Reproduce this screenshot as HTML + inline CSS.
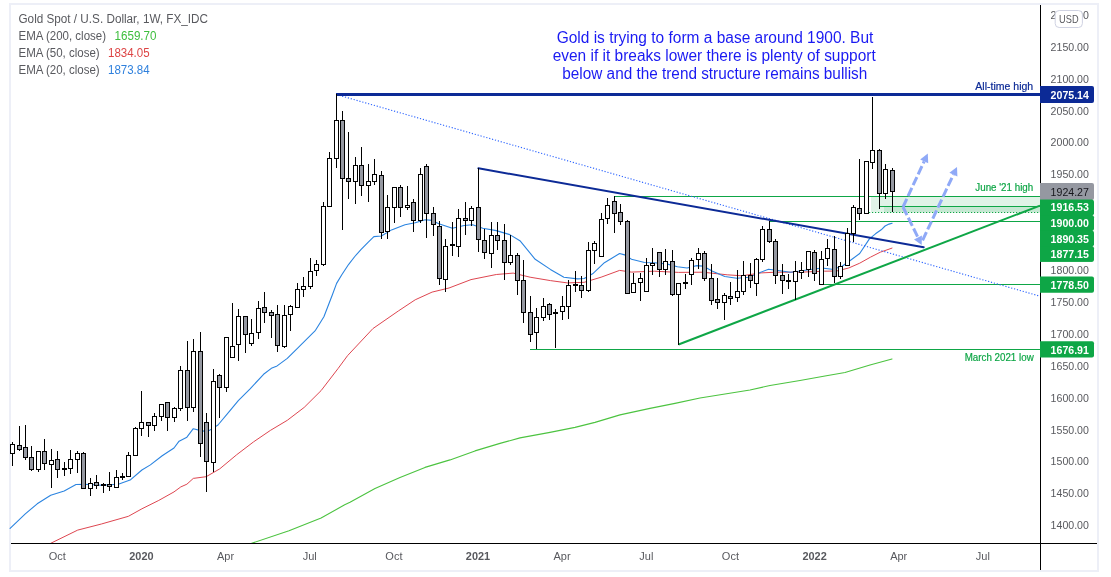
<!DOCTYPE html><html><head><meta charset="utf-8"><title>Gold Spot chart</title>
<style>html,body{margin:0;padding:0;background:#fff;}body{width:1111px;height:577px;overflow:hidden;position:relative;font-family:"Liberation Sans",sans-serif;}svg{position:absolute;left:0;top:0;display:block;will-change:transform;}text{font-family:"Liberation Sans",sans-serif;}</style></head><body>
<svg width="1111" height="577" viewBox="0 0 1111 577">
<rect x="10" y="4" width="1088" height="567" fill="#fff" stroke="#edeff7" stroke-width="2"/>
<rect x="871" y="196.5" width="169" height="16" fill="#0ea646" fill-opacity="0.13"/>
<rect x="884" y="206.5" width="156" height="6" fill="#0ea646" fill-opacity="0.13"/>
<line x1="614.5" y1="196.5" x2="1040" y2="196.5" stroke="#0ea646" stroke-width="1" />
<line x1="879" y1="206.5" x2="1040" y2="206.5" stroke="#0ea646" stroke-width="1" />
<line x1="869" y1="212.5" x2="1040" y2="212.5" stroke="#0ea646" stroke-width="1" stroke-dasharray="1.2 1.8"/>
<line x1="769.5" y1="221.5" x2="1040" y2="221.5" stroke="#0ea646" stroke-width="1" />
<line x1="819" y1="284.5" x2="1040" y2="284.5" stroke="#0ea646" stroke-width="1" />
<line x1="530" y1="349.5" x2="1040" y2="349.5" stroke="#0ea646" stroke-width="1" />
<polyline points="251.6,543.3 289.0,530.8 321.1,518.0 344.7,504.8 350.0,502.3 375.0,488.4 400.0,477.4 425.0,467.4 450.0,459.9 475.0,450.9 500.0,443.4 520.0,437.9 550.0,432.4 575.0,427.4 595.0,422.4 620.0,414.9 650.0,408.4 675.0,403.4 700.0,398.0 725.0,394.0 750.0,390.0 770.0,385.5 800.0,380.5 825.0,376.0 845.0,372.5 870.0,365.0 892.0,359.0" fill="none" stroke="#4cc340" stroke-width="1.1" stroke-linejoin="round" stroke-linecap="round"/>
<polyline points="50.7,543.3 77.7,530.1 101.4,524.0 128.4,516.3 141.9,508.8 158.8,500.4 174.0,491.9 180.8,486.9 186.9,484.2 193.3,478.4 206.2,476.7 219.7,468.9 236.6,454.8 253.5,441.9 270.4,430.4 287.3,420.3 304.2,407.4 321.1,390.6 338.0,368.6 347.6,355.6 372.9,328.6 398.3,311.0 415.2,299.8 432.1,292.1 449.0,288.0 471.0,279.6 496.3,274.5 513.2,273.1 530.1,277.2 550.4,280.6 567.3,282.9 584.2,282.3 601.1,277.2 619.6,270.4 631.5,272.1 654.3,271.2 678.6,272.4 702.9,272.2 727.2,274.8 741.8,275.8 761.2,272.9 775.8,272.2 800.1,272.2 824.4,271.2 836.6,271.0 848.7,268.0 859.7,263.2 870.6,257.1 880.3,252.2 892.0,248.1" fill="none" stroke="#de4650" stroke-width="1.0" stroke-linejoin="round" stroke-linecap="round"/>
<polyline points="10.1,528.4 25.3,513.9 37.2,503.8 50.7,495.3 64.2,490.9 76.0,484.5 84.5,484.2 101.4,485.2 118.3,484.2 130.1,480.1 141.9,470.0 150.4,464.9 162.2,455.8 174.0,448.0 179.1,441.2 186.9,437.2 193.3,428.7 202.8,431.1 209.5,430.4 218.0,425.0 229.8,410.8 238.3,400.7 250.1,388.9 263.6,374.3 272.0,367.9 277.1,365.9 287.3,358.4 296.9,348.8 315.5,330.3 323.9,316.7 332.3,295.0 336.6,283.4 341.8,274.7 348.7,264.3 354.8,256.5 360.9,249.6 367.8,242.7 373.9,236.6 381.4,236.0 391.5,229.9 405.0,224.8 415.2,222.8 425.3,219.7 432.1,220.4 438.8,223.8 452.4,228.2 464.2,225.5 472.6,224.8 482.8,228.2 496.3,230.6 509.8,234.6 519.9,240.7 535.2,259.3 550.4,269.4 563.9,277.2 577.4,278.9 584.2,278.5 592.6,273.8 604.4,262.7 619.6,253.5 624.7,254.9 631.5,259.3 644.6,262.5 654.3,262.7 666.5,263.9 677.4,266.8 687.1,268.0 696.8,265.6 702.9,266.1 712.6,271.2 724.8,276.5 736.9,278.2 749.1,277.3 758.8,272.9 768.5,269.3 778.2,270.5 790.4,272.2 800.1,271.0 812.3,269.3 822.0,268.0 831.7,269.3 841.4,266.8 849.9,260.8 859.7,253.5 869.4,238.9 875.5,233.8 881.2,229.8 885.1,226.0 889.0,224.1 892.1,223.2" fill="none" stroke="#2b84e0" stroke-width="1.1" stroke-linejoin="round" stroke-linecap="round"/>
<line x1="336.3" y1="94.5" x2="1040" y2="296.2" stroke="#2962ff" stroke-width="1.1" stroke-dasharray="1.2 1.8"/>
<line x1="336" y1="94.5" x2="1040" y2="94.5" stroke="#0c2a96" stroke-width="3"/>
<line x1="478.4" y1="168.3" x2="923.7" y2="247.2" stroke="#0c2a96" stroke-width="2" stroke-linecap="round"/>
<line x1="678.5" y1="344.5" x2="1040" y2="205.6" stroke="#0ea646" stroke-width="2" stroke-linecap="butt"/>
<g shape-rendering="crispEdges">
<rect x="12" y="442" width="1" height="24" fill="#000"/>
<rect x="10" y="444" width="5" height="10" fill="#000"/>
<rect x="11" y="445" width="3" height="8" fill="#fff"/>
<rect x="19" y="426" width="1" height="25" fill="#000"/>
<rect x="17" y="445" width="5" height="5" fill="#000"/>
<rect x="18" y="446" width="3" height="3" fill="#9598a1"/>
<rect x="25" y="425" width="1" height="35" fill="#000"/>
<rect x="23" y="447" width="5" height="11" fill="#000"/>
<rect x="24" y="448" width="3" height="9" fill="#9598a1"/>
<rect x="31" y="446" width="1" height="25" fill="#000"/>
<rect x="29" y="457" width="5" height="13" fill="#000"/>
<rect x="30" y="458" width="3" height="11" fill="#9598a1"/>
<rect x="38" y="451" width="1" height="21" fill="#000"/>
<rect x="36" y="451" width="5" height="19" fill="#000"/>
<rect x="37" y="452" width="3" height="17" fill="#fff"/>
<rect x="44" y="439" width="1" height="31" fill="#000"/>
<rect x="42" y="451" width="5" height="13" fill="#000"/>
<rect x="43" y="452" width="3" height="11" fill="#9598a1"/>
<rect x="51" y="449" width="1" height="39" fill="#000"/>
<rect x="49" y="460" width="5" height="5" fill="#000"/>
<rect x="50" y="461" width="3" height="3" fill="#fff"/>
<rect x="57" y="451" width="1" height="27" fill="#000"/>
<rect x="55" y="459" width="5" height="11" fill="#000"/>
<rect x="56" y="460" width="3" height="9" fill="#9598a1"/>
<rect x="64" y="462" width="1" height="14" fill="#000"/>
<rect x="62" y="468" width="5" height="2" fill="#000"/>
<rect x="70" y="450" width="1" height="24" fill="#000"/>
<rect x="68" y="459" width="5" height="10" fill="#000"/>
<rect x="69" y="460" width="3" height="8" fill="#fff"/>
<rect x="77" y="451" width="1" height="22" fill="#000"/>
<rect x="75" y="453" width="5" height="7" fill="#000"/>
<rect x="76" y="454" width="3" height="5" fill="#fff"/>
<rect x="83" y="452" width="1" height="37" fill="#000"/>
<rect x="81" y="453" width="5" height="36" fill="#000"/>
<rect x="82" y="454" width="3" height="34" fill="#9598a1"/>
<rect x="90" y="478" width="1" height="18" fill="#000"/>
<rect x="88" y="483" width="5" height="6" fill="#000"/>
<rect x="89" y="484" width="3" height="4" fill="#fff"/>
<rect x="96" y="475" width="1" height="14" fill="#000"/>
<rect x="94" y="482" width="5" height="4" fill="#000"/>
<rect x="95" y="483" width="3" height="2" fill="#9598a1"/>
<rect x="103" y="483" width="1" height="10" fill="#000"/>
<rect x="101" y="484" width="5" height="2" fill="#000"/>
<rect x="109" y="472" width="1" height="19" fill="#000"/>
<rect x="107" y="484" width="5" height="3" fill="#000"/>
<rect x="108" y="485" width="3" height="1" fill="#9598a1"/>
<rect x="116" y="470" width="1" height="18" fill="#000"/>
<rect x="114" y="477" width="5" height="11" fill="#000"/>
<rect x="115" y="478" width="3" height="9" fill="#fff"/>
<rect x="122" y="473" width="1" height="7" fill="#000"/>
<rect x="120" y="476" width="5" height="2" fill="#000"/>
<rect x="128" y="452" width="1" height="25" fill="#000"/>
<rect x="126" y="455" width="5" height="22" fill="#000"/>
<rect x="127" y="456" width="3" height="20" fill="#fff"/>
<rect x="135" y="427" width="1" height="28" fill="#000"/>
<rect x="133" y="428" width="5" height="28" fill="#000"/>
<rect x="134" y="429" width="3" height="26" fill="#fff"/>
<rect x="141" y="391" width="1" height="45" fill="#000"/>
<rect x="139" y="422" width="5" height="7" fill="#000"/>
<rect x="140" y="423" width="3" height="5" fill="#fff"/>
<rect x="148" y="422" width="1" height="15" fill="#000"/>
<rect x="146" y="422" width="5" height="4" fill="#000"/>
<rect x="147" y="423" width="3" height="2" fill="#9598a1"/>
<rect x="154" y="413" width="1" height="18" fill="#000"/>
<rect x="152" y="416" width="5" height="10" fill="#000"/>
<rect x="153" y="417" width="3" height="8" fill="#fff"/>
<rect x="161" y="404" width="1" height="17" fill="#000"/>
<rect x="159" y="404" width="5" height="13" fill="#000"/>
<rect x="160" y="405" width="3" height="11" fill="#fff"/>
<rect x="167" y="402" width="1" height="29" fill="#000"/>
<rect x="165" y="402" width="5" height="16" fill="#000"/>
<rect x="166" y="403" width="3" height="14" fill="#9598a1"/>
<rect x="174" y="407" width="1" height="15" fill="#000"/>
<rect x="172" y="408" width="5" height="10" fill="#000"/>
<rect x="173" y="409" width="3" height="8" fill="#fff"/>
<rect x="180" y="366" width="1" height="45" fill="#000"/>
<rect x="178" y="370" width="5" height="39" fill="#000"/>
<rect x="179" y="371" width="3" height="37" fill="#fff"/>
<rect x="187" y="341" width="1" height="80" fill="#000"/>
<rect x="185" y="370" width="5" height="38" fill="#000"/>
<rect x="186" y="371" width="3" height="36" fill="#9598a1"/>
<rect x="193" y="339" width="1" height="73" fill="#000"/>
<rect x="191" y="351" width="5" height="57" fill="#000"/>
<rect x="192" y="352" width="3" height="55" fill="#fff"/>
<rect x="200" y="332" width="1" height="125" fill="#000"/>
<rect x="198" y="351" width="5" height="93" fill="#000"/>
<rect x="199" y="352" width="3" height="91" fill="#9598a1"/>
<rect x="206" y="413" width="1" height="79" fill="#000"/>
<rect x="204" y="422" width="5" height="40" fill="#000"/>
<rect x="205" y="423" width="3" height="38" fill="#9598a1"/>
<rect x="213" y="369" width="1" height="103" fill="#000"/>
<rect x="211" y="381" width="5" height="82" fill="#000"/>
<rect x="212" y="382" width="3" height="80" fill="#fff"/>
<rect x="219" y="374" width="1" height="44" fill="#000"/>
<rect x="217" y="375" width="5" height="13" fill="#000"/>
<rect x="218" y="376" width="3" height="11" fill="#9598a1"/>
<rect x="226" y="337" width="1" height="55" fill="#000"/>
<rect x="224" y="337" width="5" height="51" fill="#000"/>
<rect x="225" y="338" width="3" height="49" fill="#fff"/>
<rect x="232" y="303" width="1" height="54" fill="#000"/>
<rect x="230" y="346" width="5" height="12" fill="#000"/>
<rect x="231" y="347" width="3" height="10" fill="#fff"/>
<rect x="238" y="309" width="1" height="52" fill="#000"/>
<rect x="236" y="316" width="5" height="29" fill="#000"/>
<rect x="237" y="317" width="3" height="27" fill="#fff"/>
<rect x="245" y="316" width="1" height="37" fill="#000"/>
<rect x="243" y="316" width="5" height="19" fill="#000"/>
<rect x="244" y="317" width="3" height="17" fill="#9598a1"/>
<rect x="251" y="319" width="1" height="27" fill="#000"/>
<rect x="249" y="333" width="5" height="11" fill="#000"/>
<rect x="250" y="334" width="3" height="9" fill="#fff"/>
<rect x="258" y="301" width="1" height="38" fill="#000"/>
<rect x="256" y="308" width="5" height="25" fill="#000"/>
<rect x="257" y="309" width="3" height="23" fill="#fff"/>
<rect x="264" y="292" width="1" height="31" fill="#000"/>
<rect x="262" y="307" width="5" height="6" fill="#000"/>
<rect x="263" y="308" width="3" height="4" fill="#9598a1"/>
<rect x="271" y="310" width="1" height="28" fill="#000"/>
<rect x="269" y="312" width="5" height="4" fill="#000"/>
<rect x="270" y="313" width="3" height="2" fill="#9598a1"/>
<rect x="277" y="305" width="1" height="47" fill="#000"/>
<rect x="275" y="314" width="5" height="32" fill="#000"/>
<rect x="276" y="315" width="3" height="30" fill="#9598a1"/>
<rect x="284" y="305" width="1" height="43" fill="#000"/>
<rect x="282" y="315" width="5" height="32" fill="#000"/>
<rect x="283" y="316" width="3" height="30" fill="#fff"/>
<rect x="290" y="305" width="1" height="26" fill="#000"/>
<rect x="288" y="306" width="5" height="9" fill="#000"/>
<rect x="289" y="307" width="3" height="7" fill="#fff"/>
<rect x="297" y="283" width="1" height="25" fill="#000"/>
<rect x="295" y="289" width="5" height="19" fill="#000"/>
<rect x="296" y="290" width="3" height="17" fill="#fff"/>
<rect x="303" y="277" width="1" height="20" fill="#000"/>
<rect x="301" y="286" width="5" height="4" fill="#000"/>
<rect x="302" y="287" width="3" height="2" fill="#fff"/>
<rect x="310" y="258" width="1" height="31" fill="#000"/>
<rect x="308" y="271" width="5" height="16" fill="#000"/>
<rect x="309" y="272" width="3" height="14" fill="#fff"/>
<rect x="316" y="260" width="1" height="16" fill="#000"/>
<rect x="314" y="264" width="5" height="7" fill="#000"/>
<rect x="315" y="265" width="3" height="5" fill="#fff"/>
<rect x="323" y="202" width="1" height="64" fill="#000"/>
<rect x="321" y="206" width="5" height="59" fill="#000"/>
<rect x="322" y="207" width="3" height="57" fill="#fff"/>
<rect x="329" y="152" width="1" height="55" fill="#000"/>
<rect x="327" y="158" width="5" height="49" fill="#000"/>
<rect x="328" y="159" width="3" height="47" fill="#fff"/>
<rect x="336" y="94" width="1" height="74" fill="#000"/>
<rect x="334" y="120" width="5" height="39" fill="#000"/>
<rect x="335" y="121" width="3" height="37" fill="#fff"/>
<rect x="342" y="111" width="1" height="119" fill="#000"/>
<rect x="340" y="120" width="5" height="59" fill="#000"/>
<rect x="341" y="121" width="3" height="57" fill="#9598a1"/>
<rect x="348" y="132" width="1" height="67" fill="#000"/>
<rect x="346" y="178" width="5" height="4" fill="#000"/>
<rect x="347" y="179" width="3" height="2" fill="#9598a1"/>
<rect x="355" y="157" width="1" height="47" fill="#000"/>
<rect x="353" y="165" width="5" height="17" fill="#000"/>
<rect x="354" y="166" width="3" height="15" fill="#fff"/>
<rect x="361" y="147" width="1" height="49" fill="#000"/>
<rect x="359" y="165" width="5" height="21" fill="#000"/>
<rect x="360" y="166" width="3" height="19" fill="#9598a1"/>
<rect x="368" y="164" width="1" height="38" fill="#000"/>
<rect x="366" y="181" width="5" height="5" fill="#000"/>
<rect x="367" y="182" width="3" height="3" fill="#fff"/>
<rect x="374" y="159" width="1" height="26" fill="#000"/>
<rect x="372" y="174" width="5" height="8" fill="#000"/>
<rect x="373" y="175" width="3" height="6" fill="#fff"/>
<rect x="381" y="171" width="1" height="68" fill="#000"/>
<rect x="379" y="175" width="5" height="58" fill="#000"/>
<rect x="380" y="176" width="3" height="56" fill="#9598a1"/>
<rect x="387" y="195" width="1" height="44" fill="#000"/>
<rect x="385" y="207" width="5" height="25" fill="#000"/>
<rect x="386" y="208" width="3" height="23" fill="#fff"/>
<rect x="394" y="187" width="1" height="36" fill="#000"/>
<rect x="392" y="187" width="5" height="21" fill="#000"/>
<rect x="393" y="188" width="3" height="19" fill="#fff"/>
<rect x="400" y="185" width="1" height="32" fill="#000"/>
<rect x="398" y="187" width="5" height="21" fill="#000"/>
<rect x="399" y="188" width="3" height="19" fill="#9598a1"/>
<rect x="407" y="186" width="1" height="24" fill="#000"/>
<rect x="405" y="205" width="5" height="3" fill="#000"/>
<rect x="406" y="206" width="3" height="1" fill="#fff"/>
<rect x="413" y="199" width="1" height="33" fill="#000"/>
<rect x="411" y="202" width="5" height="19" fill="#000"/>
<rect x="412" y="203" width="3" height="17" fill="#9598a1"/>
<rect x="420" y="168" width="1" height="55" fill="#000"/>
<rect x="418" y="174" width="5" height="47" fill="#000"/>
<rect x="419" y="175" width="3" height="45" fill="#fff"/>
<rect x="426" y="164" width="1" height="74" fill="#000"/>
<rect x="424" y="166" width="5" height="48" fill="#000"/>
<rect x="425" y="167" width="3" height="46" fill="#9598a1"/>
<rect x="433" y="207" width="1" height="29" fill="#000"/>
<rect x="431" y="213" width="5" height="12" fill="#000"/>
<rect x="432" y="214" width="3" height="10" fill="#9598a1"/>
<rect x="439" y="221" width="1" height="64" fill="#000"/>
<rect x="437" y="226" width="5" height="53" fill="#000"/>
<rect x="438" y="227" width="3" height="51" fill="#9598a1"/>
<rect x="445" y="239" width="1" height="53" fill="#000"/>
<rect x="443" y="246" width="5" height="34" fill="#000"/>
<rect x="444" y="247" width="3" height="32" fill="#fff"/>
<rect x="452" y="222" width="1" height="34" fill="#000"/>
<rect x="450" y="244" width="5" height="2" fill="#000"/>
<rect x="458" y="209" width="1" height="48" fill="#000"/>
<rect x="456" y="218" width="5" height="29" fill="#000"/>
<rect x="457" y="219" width="3" height="27" fill="#fff"/>
<rect x="465" y="202" width="1" height="33" fill="#000"/>
<rect x="463" y="218" width="5" height="3" fill="#000"/>
<rect x="464" y="219" width="3" height="1" fill="#9598a1"/>
<rect x="471" y="206" width="1" height="20" fill="#000"/>
<rect x="469" y="208" width="5" height="13" fill="#000"/>
<rect x="470" y="209" width="3" height="11" fill="#fff"/>
<rect x="478" y="168" width="1" height="84" fill="#000"/>
<rect x="476" y="207" width="5" height="33" fill="#000"/>
<rect x="477" y="208" width="3" height="31" fill="#9598a1"/>
<rect x="484" y="229" width="1" height="30" fill="#000"/>
<rect x="482" y="240" width="5" height="13" fill="#000"/>
<rect x="483" y="241" width="3" height="11" fill="#9598a1"/>
<rect x="491" y="222" width="1" height="46" fill="#000"/>
<rect x="489" y="235" width="5" height="19" fill="#000"/>
<rect x="490" y="236" width="3" height="17" fill="#fff"/>
<rect x="497" y="222" width="1" height="28" fill="#000"/>
<rect x="495" y="235" width="5" height="6" fill="#000"/>
<rect x="496" y="236" width="3" height="4" fill="#9598a1"/>
<rect x="504" y="224" width="1" height="56" fill="#000"/>
<rect x="502" y="240" width="5" height="23" fill="#000"/>
<rect x="503" y="241" width="3" height="21" fill="#9598a1"/>
<rect x="510" y="235" width="1" height="30" fill="#000"/>
<rect x="508" y="255" width="5" height="8" fill="#000"/>
<rect x="509" y="256" width="3" height="6" fill="#fff"/>
<rect x="517" y="253" width="1" height="42" fill="#000"/>
<rect x="515" y="255" width="5" height="26" fill="#000"/>
<rect x="516" y="256" width="3" height="24" fill="#9598a1"/>
<rect x="523" y="260" width="1" height="63" fill="#000"/>
<rect x="521" y="280" width="5" height="33" fill="#000"/>
<rect x="522" y="281" width="3" height="31" fill="#9598a1"/>
<rect x="530" y="296" width="1" height="46" fill="#000"/>
<rect x="528" y="312" width="5" height="23" fill="#000"/>
<rect x="529" y="313" width="3" height="21" fill="#9598a1"/>
<rect x="536" y="308" width="1" height="41" fill="#000"/>
<rect x="534" y="317" width="5" height="16" fill="#000"/>
<rect x="535" y="318" width="3" height="14" fill="#fff"/>
<rect x="543" y="298" width="1" height="23" fill="#000"/>
<rect x="541" y="306" width="5" height="12" fill="#000"/>
<rect x="542" y="307" width="3" height="10" fill="#fff"/>
<rect x="549" y="303" width="1" height="17" fill="#000"/>
<rect x="547" y="304" width="5" height="11" fill="#000"/>
<rect x="548" y="305" width="3" height="9" fill="#9598a1"/>
<rect x="555" y="309" width="1" height="39" fill="#000"/>
<rect x="553" y="312" width="5" height="2" fill="#000"/>
<rect x="562" y="296" width="1" height="24" fill="#000"/>
<rect x="560" y="306" width="5" height="6" fill="#000"/>
<rect x="561" y="307" width="3" height="4" fill="#fff"/>
<rect x="568" y="280" width="1" height="39" fill="#000"/>
<rect x="566" y="285" width="5" height="22" fill="#000"/>
<rect x="567" y="286" width="3" height="20" fill="#fff"/>
<rect x="575" y="271" width="1" height="21" fill="#000"/>
<rect x="573" y="284" width="5" height="2" fill="#000"/>
<rect x="581" y="276" width="1" height="22" fill="#000"/>
<rect x="579" y="285" width="5" height="6" fill="#000"/>
<rect x="580" y="286" width="3" height="4" fill="#9598a1"/>
<rect x="588" y="242" width="1" height="50" fill="#000"/>
<rect x="586" y="250" width="5" height="41" fill="#000"/>
<rect x="587" y="251" width="3" height="39" fill="#fff"/>
<rect x="594" y="241" width="1" height="23" fill="#000"/>
<rect x="592" y="243" width="5" height="8" fill="#000"/>
<rect x="593" y="244" width="3" height="6" fill="#fff"/>
<rect x="601" y="213" width="1" height="43" fill="#000"/>
<rect x="599" y="219" width="5" height="38" fill="#000"/>
<rect x="600" y="220" width="3" height="36" fill="#fff"/>
<rect x="607" y="198" width="1" height="26" fill="#000"/>
<rect x="605" y="205" width="5" height="14" fill="#000"/>
<rect x="606" y="206" width="3" height="12" fill="#fff"/>
<rect x="614" y="196" width="1" height="37" fill="#000"/>
<rect x="612" y="201" width="5" height="13" fill="#000"/>
<rect x="613" y="202" width="3" height="11" fill="#9598a1"/>
<rect x="620" y="204" width="1" height="21" fill="#000"/>
<rect x="618" y="212" width="5" height="10" fill="#000"/>
<rect x="619" y="213" width="3" height="8" fill="#9598a1"/>
<rect x="627" y="220" width="1" height="74" fill="#000"/>
<rect x="625" y="221" width="5" height="73" fill="#000"/>
<rect x="626" y="222" width="3" height="71" fill="#9598a1"/>
<rect x="633" y="273" width="1" height="20" fill="#000"/>
<rect x="631" y="283" width="5" height="10" fill="#000"/>
<rect x="632" y="284" width="3" height="8" fill="#fff"/>
<rect x="640" y="273" width="1" height="28" fill="#000"/>
<rect x="638" y="278" width="5" height="5" fill="#000"/>
<rect x="639" y="279" width="3" height="3" fill="#fff"/>
<rect x="646" y="258" width="1" height="33" fill="#000"/>
<rect x="644" y="265" width="5" height="27" fill="#000"/>
<rect x="645" y="266" width="3" height="25" fill="#fff"/>
<rect x="652" y="248" width="1" height="27" fill="#000"/>
<rect x="650" y="263" width="5" height="3" fill="#000"/>
<rect x="651" y="264" width="3" height="1" fill="#fff"/>
<rect x="659" y="252" width="1" height="25" fill="#000"/>
<rect x="657" y="252" width="5" height="18" fill="#000"/>
<rect x="658" y="253" width="3" height="16" fill="#9598a1"/>
<rect x="665" y="249" width="1" height="26" fill="#000"/>
<rect x="663" y="261" width="5" height="9" fill="#000"/>
<rect x="664" y="262" width="3" height="7" fill="#fff"/>
<rect x="672" y="250" width="1" height="46" fill="#000"/>
<rect x="670" y="261" width="5" height="34" fill="#000"/>
<rect x="671" y="262" width="3" height="32" fill="#9598a1"/>
<rect x="678" y="284" width="1" height="61" fill="#000"/>
<rect x="676" y="283" width="5" height="12" fill="#000"/>
<rect x="677" y="284" width="3" height="10" fill="#fff"/>
<rect x="685" y="274" width="1" height="15" fill="#000"/>
<rect x="683" y="282" width="5" height="2" fill="#000"/>
<rect x="691" y="258" width="1" height="27" fill="#000"/>
<rect x="689" y="260" width="5" height="15" fill="#000"/>
<rect x="690" y="261" width="3" height="13" fill="#fff"/>
<rect x="698" y="248" width="1" height="21" fill="#000"/>
<rect x="696" y="253" width="5" height="7" fill="#000"/>
<rect x="697" y="254" width="3" height="5" fill="#fff"/>
<rect x="704" y="251" width="1" height="30" fill="#000"/>
<rect x="702" y="253" width="5" height="26" fill="#000"/>
<rect x="703" y="254" width="3" height="24" fill="#9598a1"/>
<rect x="711" y="264" width="1" height="41" fill="#000"/>
<rect x="709" y="278" width="5" height="23" fill="#000"/>
<rect x="710" y="279" width="3" height="21" fill="#9598a1"/>
<rect x="717" y="278" width="1" height="31" fill="#000"/>
<rect x="715" y="299" width="5" height="4" fill="#000"/>
<rect x="716" y="300" width="3" height="2" fill="#9598a1"/>
<rect x="724" y="293" width="1" height="27" fill="#000"/>
<rect x="722" y="295" width="5" height="8" fill="#000"/>
<rect x="723" y="296" width="3" height="6" fill="#fff"/>
<rect x="730" y="282" width="1" height="23" fill="#000"/>
<rect x="728" y="296" width="5" height="3" fill="#000"/>
<rect x="729" y="297" width="3" height="1" fill="#9598a1"/>
<rect x="737" y="270" width="1" height="32" fill="#000"/>
<rect x="735" y="291" width="5" height="7" fill="#000"/>
<rect x="736" y="292" width="3" height="5" fill="#fff"/>
<rect x="743" y="261" width="1" height="34" fill="#000"/>
<rect x="741" y="275" width="5" height="17" fill="#000"/>
<rect x="742" y="276" width="3" height="15" fill="#fff"/>
<rect x="750" y="263" width="1" height="25" fill="#000"/>
<rect x="748" y="275" width="5" height="6" fill="#000"/>
<rect x="749" y="276" width="3" height="4" fill="#9598a1"/>
<rect x="756" y="258" width="1" height="38" fill="#000"/>
<rect x="754" y="259" width="5" height="25" fill="#000"/>
<rect x="755" y="260" width="3" height="23" fill="#fff"/>
<rect x="762" y="226" width="1" height="36" fill="#000"/>
<rect x="760" y="229" width="5" height="31" fill="#000"/>
<rect x="761" y="230" width="3" height="29" fill="#fff"/>
<rect x="769" y="221" width="1" height="22" fill="#000"/>
<rect x="767" y="229" width="5" height="13" fill="#000"/>
<rect x="768" y="230" width="3" height="11" fill="#9598a1"/>
<rect x="775" y="239" width="1" height="45" fill="#000"/>
<rect x="773" y="241" width="5" height="35" fill="#000"/>
<rect x="774" y="242" width="3" height="33" fill="#9598a1"/>
<rect x="782" y="264" width="1" height="30" fill="#000"/>
<rect x="780" y="275" width="5" height="6" fill="#000"/>
<rect x="781" y="276" width="3" height="4" fill="#9598a1"/>
<rect x="788" y="274" width="1" height="15" fill="#000"/>
<rect x="786" y="280" width="5" height="2" fill="#000"/>
<rect x="795" y="261" width="1" height="39" fill="#000"/>
<rect x="793" y="271" width="5" height="11" fill="#000"/>
<rect x="794" y="272" width="3" height="9" fill="#fff"/>
<rect x="801" y="262" width="1" height="17" fill="#000"/>
<rect x="799" y="270" width="5" height="3" fill="#000"/>
<rect x="800" y="271" width="3" height="1" fill="#fff"/>
<rect x="808" y="251" width="1" height="26" fill="#000"/>
<rect x="806" y="251" width="5" height="19" fill="#000"/>
<rect x="807" y="252" width="3" height="17" fill="#fff"/>
<rect x="814" y="250" width="1" height="31" fill="#000"/>
<rect x="812" y="252" width="5" height="22" fill="#000"/>
<rect x="813" y="253" width="3" height="20" fill="#9598a1"/>
<rect x="821" y="251" width="1" height="33" fill="#000"/>
<rect x="819" y="259" width="5" height="26" fill="#000"/>
<rect x="820" y="260" width="3" height="24" fill="#fff"/>
<rect x="827" y="239" width="1" height="27" fill="#000"/>
<rect x="825" y="248" width="5" height="11" fill="#000"/>
<rect x="826" y="249" width="3" height="9" fill="#fff"/>
<rect x="834" y="236" width="1" height="47" fill="#000"/>
<rect x="832" y="249" width="5" height="28" fill="#000"/>
<rect x="833" y="250" width="3" height="26" fill="#9598a1"/>
<rect x="840" y="262" width="1" height="17" fill="#000"/>
<rect x="838" y="266" width="5" height="11" fill="#000"/>
<rect x="839" y="267" width="3" height="9" fill="#fff"/>
<rect x="847" y="228" width="1" height="38" fill="#000"/>
<rect x="845" y="233" width="5" height="33" fill="#000"/>
<rect x="846" y="234" width="3" height="31" fill="#fff"/>
<rect x="853" y="205" width="1" height="37" fill="#000"/>
<rect x="851" y="207" width="5" height="27" fill="#000"/>
<rect x="852" y="208" width="3" height="25" fill="#fff"/>
<rect x="859" y="159" width="1" height="61" fill="#000"/>
<rect x="857" y="208" width="5" height="6" fill="#000"/>
<rect x="858" y="209" width="3" height="4" fill="#9598a1"/>
<rect x="866" y="161" width="1" height="53" fill="#000"/>
<rect x="864" y="161" width="5" height="53" fill="#000"/>
<rect x="865" y="162" width="3" height="51" fill="#fff"/>
<rect x="872" y="97" width="1" height="72" fill="#000"/>
<rect x="870" y="150" width="5" height="13" fill="#000"/>
<rect x="871" y="151" width="3" height="11" fill="#fff"/>
<rect x="879" y="149" width="1" height="60" fill="#000"/>
<rect x="877" y="150" width="5" height="44" fill="#000"/>
<rect x="878" y="151" width="3" height="42" fill="#9598a1"/>
<rect x="885" y="164" width="1" height="35" fill="#000"/>
<rect x="883" y="169" width="5" height="25" fill="#000"/>
<rect x="884" y="170" width="3" height="23" fill="#fff"/>
<rect x="892" y="168" width="1" height="44" fill="#000"/>
<rect x="890" y="170" width="5" height="22" fill="#000"/>
<rect x="891" y="171" width="3" height="20" fill="#9598a1"/>
</g>
<line x1="903.0" y1="207.0" x2="924.2" y2="161.3" stroke="#8fa9f7" stroke-width="3" stroke-dasharray="9 3"/>
<polygon points="927.8,153.6 928.2,163.2 920.2,159.5" fill="#8fa9f7"/>
<line x1="903.0" y1="207.0" x2="918.0" y2="237.5" stroke="#8fa9f7" stroke-width="3" stroke-dasharray="9 3"/>
<polygon points="921.7,245.1 914.0,239.4 921.9,235.5" fill="#8fa9f7"/>
<line x1="922.6" y1="240.3" x2="953.4" y2="174.6" stroke="#8fa9f7" stroke-width="3" stroke-dasharray="9 3"/>
<polygon points="957.0,166.9 957.4,176.5 949.4,172.7" fill="#8fa9f7"/>
<rect x="1040" y="5" width="1" height="565" fill="#000" shape-rendering="crispEdges"/>
<rect x="11" y="543" width="1086" height="1" fill="#000" shape-rendering="crispEdges"/>
<text x="18.5" y="23.2" font-size="12" fill="#58595e" font-weight="normal" text-anchor="start" textLength="189.5" lengthAdjust="spacingAndGlyphs" >Gold Spot / U.S. Dollar, 1W, FX_IDC</text>
<text x="18.5" y="40.2" font-size="12" fill="#58595e" font-weight="normal" text-anchor="start" textLength="87.5" lengthAdjust="spacingAndGlyphs" >EMA (200, close)</text>
<text x="114.5" y="40.2" font-size="12" fill="#3dbe3d" font-weight="normal" text-anchor="start" textLength="42" lengthAdjust="spacingAndGlyphs" >1659.70</text>
<text x="18.5" y="56.9" font-size="12" fill="#58595e" font-weight="normal" text-anchor="start" textLength="81.2" lengthAdjust="spacingAndGlyphs" >EMA (50, close)</text>
<text x="108" y="56.9" font-size="12" fill="#dd4444" font-weight="normal" text-anchor="start" textLength="41.6" lengthAdjust="spacingAndGlyphs" >1834.05</text>
<text x="18.5" y="73.7" font-size="12" fill="#58595e" font-weight="normal" text-anchor="start" textLength="81.2" lengthAdjust="spacingAndGlyphs" >EMA (20, close)</text>
<text x="108" y="73.7" font-size="12" fill="#2f80dd" font-weight="normal" text-anchor="start" textLength="41.6" lengthAdjust="spacingAndGlyphs" >1873.84</text>
<text x="715" y="43.3" font-size="16" fill="#1a1af2" font-weight="normal" text-anchor="middle" textLength="316.7" lengthAdjust="spacingAndGlyphs" >Gold is trying to form a base around 1900. But</text>
<text x="714.2" y="60.9" font-size="16" fill="#1a1af2" font-weight="normal" text-anchor="middle" textLength="323" lengthAdjust="spacingAndGlyphs" >even if it breaks lower there is plenty of support</text>
<text x="714.8" y="79.3" font-size="16" fill="#1a1af2" font-weight="normal" text-anchor="middle" textLength="305" lengthAdjust="spacingAndGlyphs" >below and the trend structure remains bullish</text>
<text x="1050.6" y="19.0" font-size="11" fill="#58595e" font-weight="normal" text-anchor="start" textLength="38.3" lengthAdjust="spacingAndGlyphs" >2200.00</text>
<text x="1050.6" y="51.0" font-size="11" fill="#58595e" font-weight="normal" text-anchor="start" textLength="38.3" lengthAdjust="spacingAndGlyphs" >2150.00</text>
<text x="1050.6" y="83.0" font-size="11" fill="#58595e" font-weight="normal" text-anchor="start" textLength="38.3" lengthAdjust="spacingAndGlyphs" >2100.00</text>
<text x="1050.6" y="115.0" font-size="11" fill="#58595e" font-weight="normal" text-anchor="start" textLength="38.3" lengthAdjust="spacingAndGlyphs" >2050.00</text>
<text x="1050.6" y="146.0" font-size="11" fill="#58595e" font-weight="normal" text-anchor="start" textLength="38.3" lengthAdjust="spacingAndGlyphs" >2000.00</text>
<text x="1050.6" y="178.0" font-size="11" fill="#58595e" font-weight="normal" text-anchor="start" textLength="38.3" lengthAdjust="spacingAndGlyphs" >1950.00</text>
<text x="1050.6" y="274.0" font-size="11" fill="#58595e" font-weight="normal" text-anchor="start" textLength="38.3" lengthAdjust="spacingAndGlyphs" >1800.00</text>
<text x="1050.6" y="306.0" font-size="11" fill="#58595e" font-weight="normal" text-anchor="start" textLength="38.3" lengthAdjust="spacingAndGlyphs" >1750.00</text>
<text x="1050.6" y="338.0" font-size="11" fill="#58595e" font-weight="normal" text-anchor="start" textLength="38.3" lengthAdjust="spacingAndGlyphs" >1700.00</text>
<text x="1050.6" y="370.0" font-size="11" fill="#58595e" font-weight="normal" text-anchor="start" textLength="38.3" lengthAdjust="spacingAndGlyphs" >1650.00</text>
<text x="1050.6" y="402.0" font-size="11" fill="#58595e" font-weight="normal" text-anchor="start" textLength="38.3" lengthAdjust="spacingAndGlyphs" >1600.00</text>
<text x="1050.6" y="434.0" font-size="11" fill="#58595e" font-weight="normal" text-anchor="start" textLength="38.3" lengthAdjust="spacingAndGlyphs" >1550.00</text>
<text x="1050.6" y="465.0" font-size="11" fill="#58595e" font-weight="normal" text-anchor="start" textLength="38.3" lengthAdjust="spacingAndGlyphs" >1500.00</text>
<text x="1050.6" y="497.0" font-size="11" fill="#58595e" font-weight="normal" text-anchor="start" textLength="38.3" lengthAdjust="spacingAndGlyphs" >1450.00</text>
<text x="1050.6" y="529.0" font-size="11" fill="#58595e" font-weight="normal" text-anchor="start" textLength="38.3" lengthAdjust="spacingAndGlyphs" >1400.00</text>
<rect x="1055.2" y="10.5" width="27.2" height="17" rx="4" ry="4" fill="#fff" stroke="#cfd2e2" stroke-width="1"/>
<text x="1068.8" y="23" font-size="10.5" fill="#58595e" font-weight="normal" text-anchor="middle" textLength="19.5" lengthAdjust="spacingAndGlyphs" >USD</text>
<path d="M1040,86 H1092 a2,2 0 0 1 2,2 V101 a2,2 0 0 1 -2,2 H1040 Z" fill="#0c2a96"/>
<text x="1050.6" y="99.2" font-size="11" fill="#fff" font-weight="bold" text-anchor="start" textLength="38.3" lengthAdjust="spacingAndGlyphs" >2075.14</text>
<path d="M1040,183 H1092 a2,2 0 0 1 2,2 V198 a2,2 0 0 1 -2,2 H1040 Z" fill="#9598a1"/>
<text x="1050.6" y="195.5" font-size="11" fill="#15151a" font-weight="normal" text-anchor="start" textLength="38.3" lengthAdjust="spacingAndGlyphs" >1924.27</text>
<rect x="1040" y="199.7" width="52.5" height="62" fill="#0ea646"/>
<path d="M1040,199.7 H1092 a2,2 0 0 1 2,2 V213.2 a2,2 0 0 1 -2,2 H1040 Z" fill="#0ea646"/>
<path d="M1040,215.2 H1092 a2,2 0 0 1 2,2 V228.7 a2,2 0 0 1 -2,2 H1040 Z" fill="#0ea646"/>
<path d="M1040,230.7 H1092 a2,2 0 0 1 2,2 V244.2 a2,2 0 0 1 -2,2 H1040 Z" fill="#0ea646"/>
<path d="M1040,246.2 H1092 a2,2 0 0 1 2,2 V259.7 a2,2 0 0 1 -2,2 H1040 Z" fill="#0ea646"/>
<text x="1050.6" y="211.2" font-size="11" fill="#fff" font-weight="bold" text-anchor="start" textLength="38.3" lengthAdjust="spacingAndGlyphs" >1916.53</text>
<text x="1050.6" y="226.9" font-size="11" fill="#fff" font-weight="bold" text-anchor="start" textLength="38.3" lengthAdjust="spacingAndGlyphs" >1900.00</text>
<text x="1050.6" y="242.6" font-size="11" fill="#fff" font-weight="bold" text-anchor="start" textLength="38.3" lengthAdjust="spacingAndGlyphs" >1890.35</text>
<text x="1050.6" y="258.0" font-size="11" fill="#fff" font-weight="bold" text-anchor="start" textLength="38.3" lengthAdjust="spacingAndGlyphs" >1877.15</text>
<path d="M1040,276.4 H1092 a2,2 0 0 1 2,2 V290.8 a2,2 0 0 1 -2,2 H1040 Z" fill="#0ea646"/>
<text x="1050.6" y="288.6" font-size="11" fill="#fff" font-weight="bold" text-anchor="start" textLength="38.3" lengthAdjust="spacingAndGlyphs" >1778.50</text>
<path d="M1040,341.2 H1092 a2,2 0 0 1 2,2 V355.6 a2,2 0 0 1 -2,2 H1040 Z" fill="#0ea646"/>
<text x="1050.6" y="354.4" font-size="11" fill="#fff" font-weight="bold" text-anchor="start" textLength="38.3" lengthAdjust="spacingAndGlyphs" >1676.91</text>
<text x="1033.2" y="89.9" font-size="10.3" fill="#0c2a96" font-weight="normal" text-anchor="end" textLength="57.9" lengthAdjust="spacingAndGlyphs" stroke="#0c2a96" stroke-width="0.2">All-time high</text>
<text x="1033.2" y="191.0" font-size="10.3" fill="#0ea646" font-weight="normal" text-anchor="end" textLength="57.9" lengthAdjust="spacingAndGlyphs" stroke="#0ea646" stroke-width="0.2">June '21 high</text>
<text x="1033.7" y="361.0" font-size="10.3" fill="#0ea646" font-weight="normal" text-anchor="end" textLength="69" lengthAdjust="spacingAndGlyphs" stroke="#0ea646" stroke-width="0.2">March 2021 low</text>
<text x="57.3" y="560.3" font-size="11" fill="#58595e" font-weight="normal" text-anchor="middle" >Oct</text>
<text x="141.4" y="560.3" font-size="11" fill="#58595e" font-weight="bold" text-anchor="middle" textLength="24.3" lengthAdjust="spacingAndGlyphs" >2020</text>
<text x="225.6" y="560.3" font-size="11" fill="#58595e" font-weight="normal" text-anchor="middle" >Apr</text>
<text x="309.7" y="560.3" font-size="11" fill="#58595e" font-weight="normal" text-anchor="middle" >Jul</text>
<text x="393.9" y="560.3" font-size="11" fill="#58595e" font-weight="normal" text-anchor="middle" >Oct</text>
<text x="478.0" y="560.3" font-size="11" fill="#58595e" font-weight="bold" text-anchor="middle" textLength="24.3" lengthAdjust="spacingAndGlyphs" >2021</text>
<text x="562.1" y="560.3" font-size="11" fill="#58595e" font-weight="normal" text-anchor="middle" >Apr</text>
<text x="646.3" y="560.3" font-size="11" fill="#58595e" font-weight="normal" text-anchor="middle" >Jul</text>
<text x="730.4" y="560.3" font-size="11" fill="#58595e" font-weight="normal" text-anchor="middle" >Oct</text>
<text x="814.6" y="560.3" font-size="11" fill="#58595e" font-weight="bold" text-anchor="middle" textLength="24.3" lengthAdjust="spacingAndGlyphs" >2022</text>
<text x="898.7" y="560.3" font-size="11" fill="#58595e" font-weight="normal" text-anchor="middle" >Apr</text>
<text x="982.8" y="560.3" font-size="11" fill="#58595e" font-weight="normal" text-anchor="middle" >Jul</text>
</svg></body></html>
